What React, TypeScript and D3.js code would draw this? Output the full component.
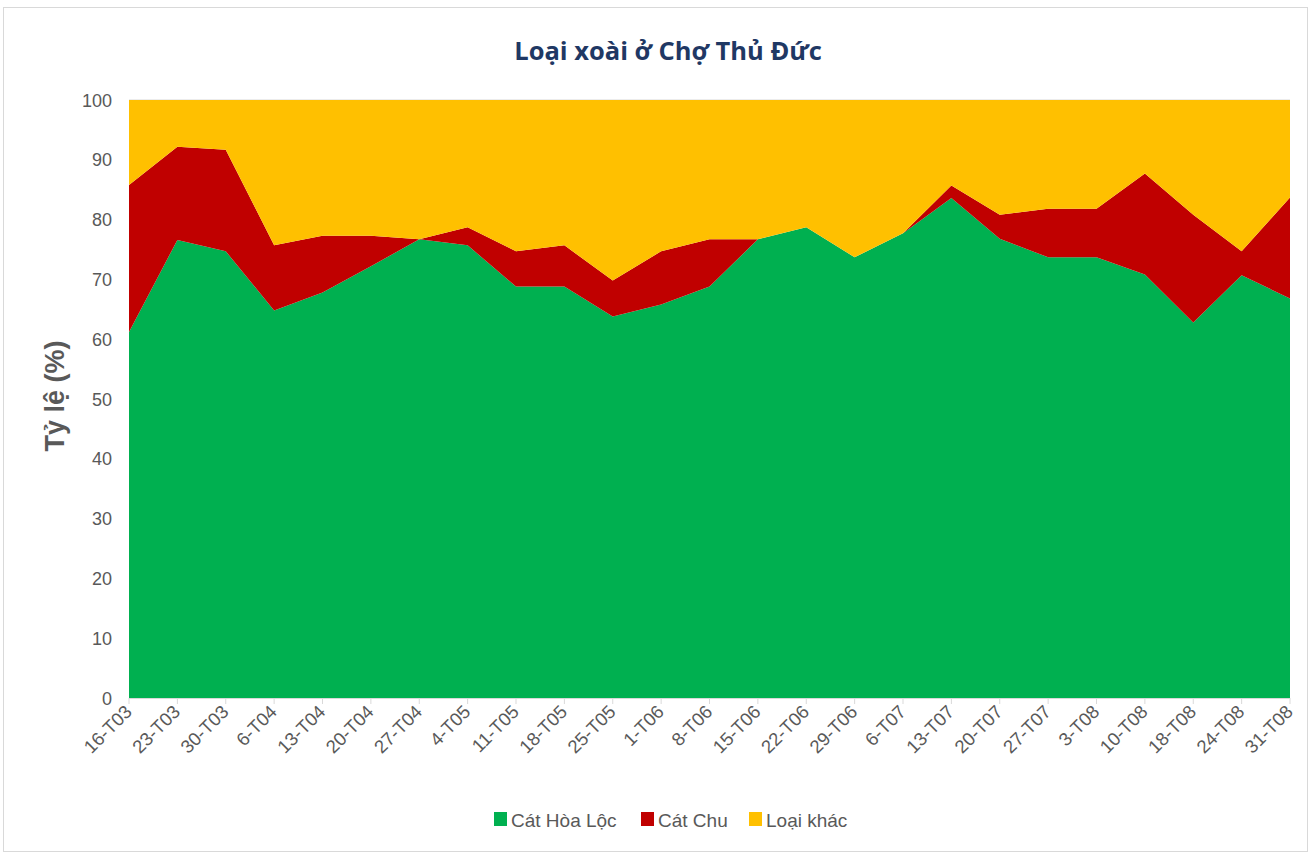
import React from "react";
import * as d3 from "d3";

const categories = ["16-T03","23-T03","30-T03","6-T04","13-T04","20-T04","27-T04","4-T05","11-T05","18-T05","25-T05","1-T06","8-T06","15-T06","22-T06","29-T06","6-T07","13-T07","20-T07","27-T07","3-T08","10-T08","18-T08","24-T08","31-T08"];
const catHoaLoc = [61.2,76.6,74.7,64.8,67.8,72.2,76.7,75.7,68.8,68.8,63.8,65.8,68.8,76.7,78.7,73.7,77.7,83.6,76.8,73.7,73.7,70.8,62.8,70.7,66.8];
const catChu = [24.6,15.6,17.0,10.9,9.5,5.1,0,3.0,5.9,6.9,6.0,8.9,7.9,0,0,0,0,2.1,4.0,8.1,8.1,16.9,18.0,4.0,16.9];
const loaiKhac = [14.2,7.8,8.3,24.3,22.7,22.7,23.3,21.3,25.3,24.3,30.2,25.3,23.3,23.3,21.3,26.3,22.3,14.3,19.2,18.2,18.2,12.3,19.2,25.3,16.3];
const seriesNames = ["Cát Hòa Lộc", "Cát Chu", "Loại khác"];
const seriesColors = ["#00B050", "#C00000", "#FFC000"];
const yTicks = [0,10,20,30,40,50,60,70,80,90,100];

export default function App() {
  const W = 1311, H = 854;
  const left = 129, right = 1290, top = 100, bottom = 698;
  const x = d3.scalePoint<string>().domain(categories).range([left, right]);
  const y = d3.scaleLinear().domain([0, 100]).range([bottom, top]);
  const rows = categories.map((c, i) => ({ cat: c, a: catHoaLoc[i], b: catChu[i], c2: loaiKhac[i] }));
  const stack = d3.stack<any>().keys(["a", "b", "c2"]);
  const series = stack(rows);
  const area = d3.area<any>()
    .x((d) => x(d.data.cat) as number)
    .y0((d) => y(d[0]))
    .y1((d) => y(d[1]));
  const font = "'Liberation Sans', Arial, sans-serif";
  const legendItems = [
    { x: 494, label: seriesNames[0], color: seriesColors[0] },
    { x: 641, label: seriesNames[1], color: seriesColors[1] },
    { x: 749, label: seriesNames[2], color: seriesColors[2] },
  ];
  return (
    <svg width={W} height={H} style={{ position: "absolute", left: 0, top: 0, background: "#fff" }}>
      <rect x={3.5} y={7.5} width={1304} height={844} fill="#fff" stroke="#d9d9d9" strokeWidth={1} />
      <text x={668} y={60} textAnchor="middle" fontFamily="'Open Sans', sans-serif" fontWeight="bold" fontSize={25.5} fill="#1F3864">Loại xoài ở Chợ Thủ Đức</text>
      <line x1={left} x2={right} y1={y(100)} y2={y(100)} stroke="#d9d9d9" />
      {series.map((s, i) => (
        <path key={i} d={area(s as any) || ""} fill={seriesColors[i]} />
      ))}
      <line x1={left} x2={right} y1={bottom + 0.5} y2={bottom + 0.5} stroke="#d9d9d9" strokeWidth={1} />
      {categories.map((c) => (
        <line key={"t" + c} x1={x(c)} x2={x(c)} y1={bottom} y2={bottom + 6} stroke="#d9d9d9" />
      ))}
      {yTicks.map((t) => (
        <text key={"y" + t} x={112} y={y(t) + 6.5} textAnchor="end" fontFamily={font} fontSize={18} fill="#595959">{t}</text>
      ))}
      <text transform={`translate(64,396) rotate(-90)`} textAnchor="middle" fontFamily={font} fontWeight="bold" fontSize={27} fill="#595959">Tỷ lệ (%)</text>
      {categories.map((c) => (
        <text key={"x" + c} transform={`translate(${(x(c) as number) + 4},${bottom + 15}) rotate(-45)`} textAnchor="end" fontFamily={font} fontSize={18.5} fill="#595959">{c}</text>
      ))}
      {legendItems.map((l) => (
        <g key={l.label}>
          <rect x={l.x} y={812} width={13} height={14} fill={l.color} />
          <text x={l.x + 17} y={827} fontFamily={font} fontSize={19} fill="#595959">{l.label}</text>
        </g>
      ))}
    </svg>
  );
}
